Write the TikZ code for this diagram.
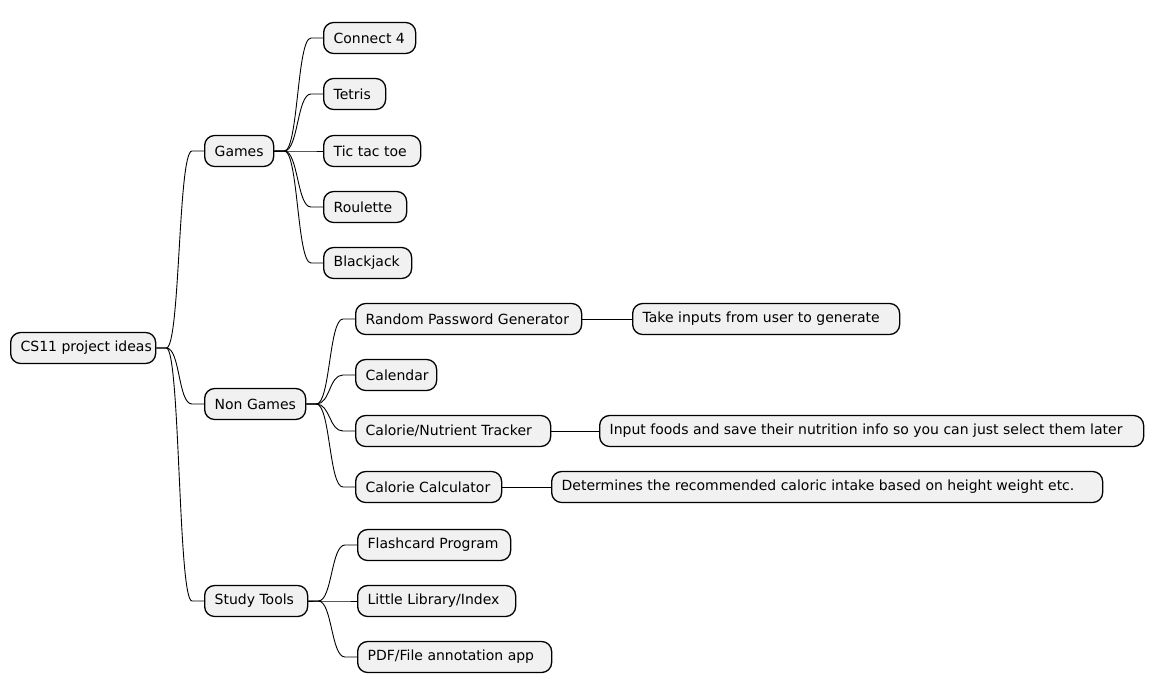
\documentclass[tikz,border=0pt]{standalone}
\usepackage{fontspec}
\setmainfont{DejaVu Sans}
\usetikzlibrary{calc}
\definecolor{nodefill}{RGB}{241,241,241}
\tikzset{
  mm/.style={draw=black, line width=1.3pt, fill=nodefill, rounded corners=10pt,
    anchor=west, minimum height=31pt, inner xsep=10pt, inner ysep=0pt,
    font=\fontsize{14}{16}\selectfont},
  link/.style={draw=black, line width=0.9pt}
}
\newcommand{\mmnode}[5]{%
  \node[mm] (#1) at (#2,#3) {\makebox[\dimexpr #4pt-20pt\relax][l]{#5}};}
\newcommand{\mmconn}[2]{%
  \draw[link] (#1.east) -- ++(10,0) .. controls +(14,0) and +(-14,0) .. ($(#2.west)+(-12,0)$) -- (#2.west);}
\begin{document}
\begin{tikzpicture}[x=1pt,y=-1pt]
\useasboundingbox[fill=white] (0,0) rectangle (1153,696);
\mmnode{root}{10}{348}{145}{CS11 project ideas}
\mmnode{games}{204}{151}{69}{Games}
\mmnode{nongames}{204}{404}{101}{Non Games}
\mmnode{study}{204}{601}{103}{Study Tools}
\mmnode{c4}{323}{38}{92}{Connect 4}
\mmnode{tetris}{323}{94}{62}{Tetris}
\mmnode{ttt}{323}{151}{97}{Tic tac toe}
\mmnode{roul}{323}{207}{83}{Roulette}
\mmnode{bj}{323}{263}{88}{Blackjack}
\mmnode{rpg}{355}{319}{226}{Random Password Generator}
\mmnode{take}{632}{319}{267}{Take inputs from user to generate}
\mmnode{cal}{355}{375}{81}{Calendar}
\mmnode{cnt}{355}{431}{195}{Calorie/Nutrient Tracker}
\mmnode{input}{599}{431}{544}{Input foods and save their nutrition info so you can just select them later}
\mmnode{cc}{355}{487}{146}{Calorie Calculator}
\mmnode{det}{551}{487}{551}{Determines the recommended caloric intake based on height weight etc.}
\mmnode{flash}{357}{545}{153}{Flashcard Program}
\mmnode{lib}{357}{601}{158}{Little Library/Index}
\mmnode{pdf}{357}{657}{194}{PDF/File annotation app}
\mmconn{root}{games}
\mmconn{root}{nongames}
\mmconn{root}{study}
\mmconn{games}{c4}
\mmconn{games}{tetris}
\mmconn{games}{ttt}
\mmconn{games}{roul}
\mmconn{games}{bj}
\mmconn{nongames}{rpg}
\mmconn{nongames}{cal}
\mmconn{nongames}{cnt}
\mmconn{nongames}{cc}
\mmconn{study}{flash}
\mmconn{study}{lib}
\mmconn{study}{pdf}
\draw[link] (rpg.east) -- (take.west);
\draw[link] (cnt.east) -- (input.west);
\draw[link] (cc.east) -- (det.west);
\end{tikzpicture}
\end{document}
